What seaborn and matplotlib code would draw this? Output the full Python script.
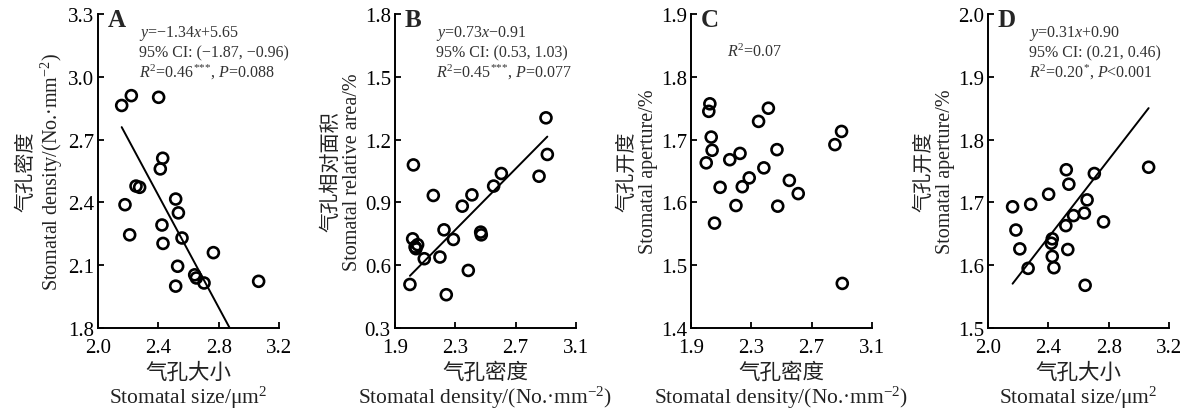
import numpy as np
import pandas as pd
import matplotlib
matplotlib.use("Agg")
import matplotlib.pyplot as plt
import seaborn as sns

# Panel A: stomatal size vs stomatal density
size_A = [2.157, 2.221, 2.402, 2.429, 2.413, 2.252, 2.276, 2.179, 2.515, 2.533, 2.424,
          2.210, 2.431, 2.557, 2.765, 2.528, 2.515, 2.641, 2.652, 2.703, 3.065]
dens_A = [2.863, 2.910, 2.902, 2.611, 2.560, 2.478, 2.472, 2.389, 2.416, 2.350, 2.292,
          2.245, 2.204, 2.230, 2.160, 2.095, 2.000, 2.054, 2.039, 2.015, 2.023]

# Panel B: stomatal density vs stomatal relative area
dens_B = [1.999, 2.017, 2.022, 2.033, 2.039, 2.050, 2.094, 2.154, 2.198, 2.225, 2.240,
          2.287, 2.346, 2.386, 2.410, 2.468, 2.472, 2.554, 2.605, 2.855, 2.901, 2.910]
area_B = [0.508, 0.726, 1.079, 0.687, 0.679, 0.698, 0.631, 0.933, 0.639, 0.769, 0.459,
          0.723, 0.882, 0.575, 0.936, 0.758, 0.745, 0.978, 1.038, 1.025, 1.304, 1.129]

# Panel C: stomatal density vs stomatal aperture
dens_C = [2.001, 2.025, 2.018, 2.034, 2.040, 2.056, 2.093, 2.157, 2.198, 2.225, 2.240,
          2.286, 2.348, 2.383, 2.413, 2.470, 2.475, 2.552, 2.611, 2.854, 2.898, 2.903]
aper_C = [1.663, 1.757, 1.745, 1.704, 1.683, 1.567, 1.624, 1.668, 1.595, 1.678, 1.625,
          1.639, 1.729, 1.655, 1.750, 1.684, 1.594, 1.635, 1.614, 1.692, 1.713, 1.471]

# Panel D: stomatal size vs stomatal aperture
size_D = [2.519, 2.705, 2.536, 2.402, 2.163, 2.283, 2.657, 2.639, 2.567, 2.516, 2.185,
          2.426, 2.420, 2.211, 2.529, 2.426, 2.266, 2.437, 2.644, 2.766, 3.065]
aper_D = [1.752, 1.746, 1.729, 1.713, 1.693, 1.697, 1.704, 1.683, 1.679, 1.663, 1.656,
          1.642, 1.635, 1.626, 1.625, 1.614, 1.595, 1.596, 1.568, 1.669, 1.756]

# fitted lines (slope, intercept); None = no line
fits = [(-1.34, 5.65), (0.73, -0.91), None, (0.31, 0.90)]

letters = ["A", "B", "C", "D"]
x_ticks = [[2.0, 2.4, 2.8, 3.2], [1.9, 2.3, 2.7, 3.1], [1.9, 2.3, 2.7, 3.1], [2.0, 2.4, 2.8, 3.2]]
y_ticks = [[1.8, 2.1, 2.4, 2.7, 3.0, 3.3], [0.3, 0.6, 0.9, 1.2, 1.5, 1.8],
           [1.4, 1.5, 1.6, 1.7, 1.8, 1.9], [1.5, 1.6, 1.7, 1.8, 1.9, 2.0]]
x_labels = ["气孔大小\nStomatal size/μm$^2$",
            "气孔密度\nStomatal density/(No.·mm$^{-2}$)",
            "气孔密度\nStomatal density/(No.·mm$^{-2}$)",
            "气孔大小\nStomatal size/μm$^2$"]
y_labels = ["气孔密度\nStomatal density/(No.·mm$^{-2}$)",
            "气孔相对面积\nStomatal relative area/%",
            "气孔开度\nStomatal aperture/%",
            "气孔开度\nStomatal aperture/%"]
notes = ["$y$=−1.34$x$+5.65\n95% CI: (−1.87, −0.96)\n$R^2$=0.46$^{{*}{*}{*}}$, $P$=0.088",
         "$y$=0.73$x$−0.91\n95% CI: (0.53, 1.03)\n$R^2$=0.45$^{{*}{*}{*}}$, $P$=0.077",
         "$R^2$=0.07",
         "$y$=0.31$x$+0.90\n95% CI: (0.21, 0.46)\n$R^2$=0.20$^{{*}}$, $P$<0.001"]

xs = [size_A, dens_B, dens_C, size_D]
ys = [dens_A, area_B, aper_C, aper_D]

sns.set_style("ticks")
plt.rcParams["font.family"] = ["Liberation Serif", "Noto Sans CJK SC"]
plt.rcParams["mathtext.fontset"] = "custom"
plt.rcParams["mathtext.rm"] = "Liberation Serif"
plt.rcParams["mathtext.it"] = "Liberation Serif:italic"
plt.rcParams["mathtext.bf"] = "Liberation Serif:bold"

fig = plt.figure(figsize=(11.87, 4.14), dpi=100)
lefts = [98, 395, 691, 988]

for i in range(4):
    ax = fig.add_axes([lefts[i] / 1187, 85 / 414, 181 / 1187, 314 / 414])
    df = pd.DataFrame({"x": xs[i], "y": ys[i]})
    sns.scatterplot(data=df, x="x", y="y", ax=ax, s=62, facecolor="none",
                    edgecolor="black", linewidth=1.9, zorder=3)
    if fits[i] is not None:
        a, b = fits[i]
        xl = np.array([min(xs[i]), max(xs[i])])
        sns.lineplot(x=xl, y=a * xl + b, ax=ax, color="black", linewidth=1.4)

    ax.set_xlim(x_ticks[i][0], x_ticks[i][-1])
    ax.set_ylim(y_ticks[i][0], y_ticks[i][-1])
    ax.set_xticks(x_ticks[i])
    ax.set_yticks(y_ticks[i])
    ax.set_xticklabels([f"{v:.1f}" for v in x_ticks[i]])
    ax.set_yticklabels([f"{v:.1f}" for v in y_ticks[i]])
    ax.tick_params(direction="in", length=4, width=1.3, labelsize=15, colors="black")
    ax.tick_params(axis="x", pad=7)
    ax.tick_params(axis="y", pad=3)
    for side in ["top", "right"]:
        ax.spines[side].set_visible(False)
    for side in ["left", "bottom"]:
        ax.spines[side].set_linewidth(1.4)
        ax.spines[side].set_color("black")

    ax.set_xlabel(x_labels[i], fontsize=15.5, labelpad=4, linespacing=1.05,
                  color="#222222", fontweight="light")
    ax.set_ylabel(y_labels[i], fontsize=14.5, labelpad=2, linespacing=1.1,
                  color="#222222", fontweight="light")

    ax.text(0.055, 1.02, letters[i], transform=ax.transAxes, fontsize=18,
            fontweight="bold", va="top", ha="left")
    ax.text(0.225 if i != 2 else 0.2, 0.97 if i != 2 else 0.91, notes[i],
            transform=ax.transAxes, fontsize=11.5, va="top", ha="left",
            linespacing=1.15, color="#333333")

fig.savefig("out.png", dpi=100)
